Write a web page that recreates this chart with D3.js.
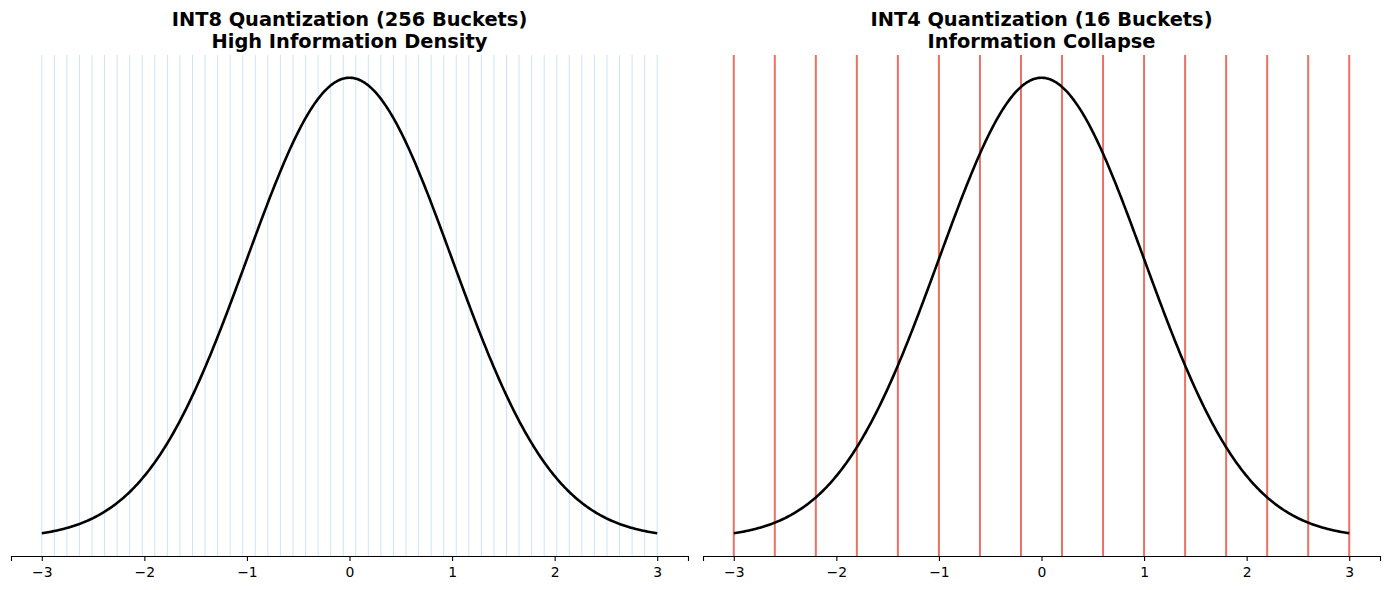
<!DOCTYPE html>
<html>
<head>
<meta charset="utf-8">
<script src="https://cdn.jsdelivr.net/npm/d3@7"></script>
<style>
  body { margin: 0; background: #fff; }
  text { font-family: "DejaVu Sans", sans-serif; }
</style>
</head>
<body>
<div class="chart"></div>
<script>
// data
const xMin = -3;
const xMax = 3;
const curveSamples = 400;
const int8Lines = 50;   // light bucket edges in left panel
const int4Lines = 16;   // bucket edges in right panel
const xTicks = [-3, -2, -1, 0, 1, 2, 3];
const titles = [
  ["INT8 Quantization (256 Buckets)", "High Information Density"],
  ["INT4 Quantization (16 Buckets)", "Information Collapse"]
];

const pdf = (x) => Math.exp(-x * x / 2) / Math.sqrt(2 * Math.PI);
const curve = d3.range(curveSamples).map((i) => {
  const x = xMin + (i * (xMax - xMin)) / (curveSamples - 1);
  return { x: x, y: pdf(x) };
});
const edges8 = d3.range(int8Lines).map((i) => xMin + (i * (xMax - xMin)) / (int8Lines - 1));
const edges4 = d3.range(int4Lines).map((i) => xMin + (i * (xMax - xMin)) / (int4Lines - 1));

const width = 1389;
const height = 590;
const svg = d3
  .select(".chart")
  .append("svg")
  .attr("width", width)
  .attr("height", height);

const panels = [
  { left: 11, right: 688, edges: edges8, color: "#3498db", opacity: 0.25, lw: 1 },
  { left: 703, right: 1380, edges: edges4, color: "#e74c3c", opacity: 0.8, lw: 2 }
];
const plotTop = 55;
const plotBottom = 556;

const yMaxData = d3.max(curve, (d) => d.y);
const yMinData = d3.min(curve, (d) => d.y);
const yPad = (yMaxData - yMinData) * 0.05;
const y = d3
  .scaleLinear()
  .domain([yMinData - yPad, yMaxData + yPad])
  .range([plotBottom, plotTop]);

panels.forEach((p, idx) => {
  const xPad = (xMax - xMin) * 0.05;
  const x = d3
    .scaleLinear()
    .domain([xMin - xPad, xMax + xPad])
    .range([p.left, p.right]);

  const g = svg.append("g");

  g.selectAll("line.edge")
    .data(p.edges)
    .enter()
    .append("line")
    .attr("class", "edge")
    .attr("x1", (d) => x(d))
    .attr("x2", (d) => x(d))
    .attr("y1", plotTop)
    .attr("y2", plotBottom)
    .attr("stroke", p.color)
    .attr("stroke-opacity", p.opacity)
    .attr("stroke-width", p.lw);

  const line = d3
    .line()
    .x((d) => x(d.x))
    .y((d) => y(d.y));

  g.append("path")
    .datum(curve)
    .attr("d", line)
    .attr("fill", "none")
    .attr("stroke", "black")
    .attr("stroke-width", 2.6);

  const axis = d3
    .axisBottom(x)
    .tickValues(xTicks)
    .tickSizeOuter(0)
    .tickSize(4.9)
    .tickPadding(6.5)
    .tickFormat((d) => (d < 0 ? "\u2212" + Math.abs(d) : d));

  const ax = g
    .append("g")
    .attr("transform", "translate(0," + plotBottom + ")")
    .call(axis);
  ax.attr("font-size", null).attr("font-family", null);
  ax.select(".domain").attr("stroke", "black").attr("stroke-width", 1.1);
  ax.selectAll(".tick line").attr("stroke", "black").attr("stroke-width", 1.1);
  ax.selectAll("text")
    .style("font-size", "13.9px")
    .style("font-family", "DejaVu Sans")
    .attr("fill", "black");

  const cx = (p.left + p.right) / 2;
  titles[idx].forEach((t, j) => {
    g.append("text")
      .attr("x", cx)
      .attr("y", 26 + j * 21.5)
      .attr("text-anchor", "middle")
      .attr("font-size", "19.4px")
      .attr("font-weight", "bold")
      .text(t);
  });
});
</script>
</body>
</html>
